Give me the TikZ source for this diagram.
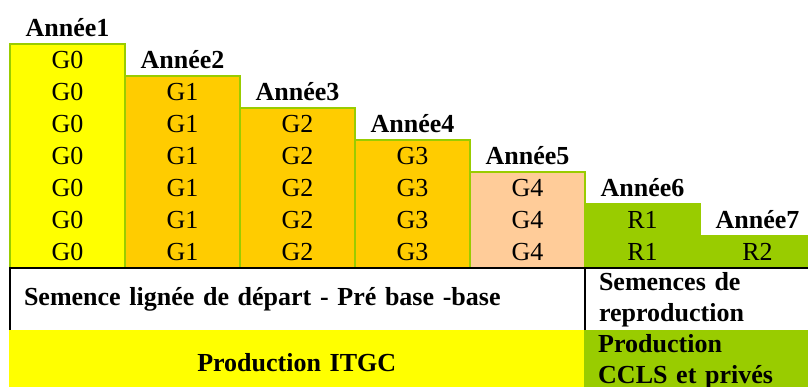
\documentclass[tikz,border=0pt]{standalone}
\usepackage{fontspec}
\setmainfont{Liberation Serif}
\usepackage{xcolor}
\usepackage{tikz}
\usetikzlibrary{positioning}
\definecolor{itgcyellow}{RGB}{255, 255, 0}
\definecolor{gorange}{RGB}{255, 204, 0}
\definecolor{gpeach}{RGB}{255, 204, 153}
\definecolor{rgreen}{RGB}{153, 204, 0}

\begin{document}
\begin{tikzpicture}[
    x=1pt, y=-1pt,
    colonne/.style={rectangle, draw=rgreen, fill=#1, line width=2pt,
                    anchor=north west, minimum width=115pt, inner sep=0pt,
                    align=center, font=\fontsize{26}{32}\selectfont},
    annee/.style={inner sep=0pt, font=\fontsize{26}{32}\selectfont\bfseries},
    bloc/.style={rectangle, fill=#1, anchor=north west, minimum height=63pt,
                 inner xsep=14pt, inner ysep=0pt, align=left,
                 font=\fontsize{26}{31}\selectfont\bfseries}
]
    \useasboundingbox (0,0) rectangle (808,387);
    \fill[white] (0,0) rectangle (808,387);
    \clip (0,0) rectangle (808,387);

    % Generations per year
    \node[colonne=itgcyellow, minimum height=224pt] (c1) at (9, 43) {G0\\G0\\G0\\G0\\G0\\G0\\G0};
    \node[colonne=gorange, minimum height=192pt] (c2) at (124, 75) {G1\\G1\\G1\\G1\\G1\\G1};
    \node[colonne=gorange, minimum height=160pt] (c3) at (239, 107) {G2\\G2\\G2\\G2\\G2};
    \node[colonne=gorange, minimum height=128pt] (c4) at (354, 139) {G3\\G3\\G3\\G3};
    \node[colonne=gpeach, minimum height=96pt] (c5) at (469, 171) {G4\\G4\\G4};
    \node[colonne=rgreen, minimum height=64pt] (c6) at (584, 203) {R1\\R1};
    \node[colonne=rgreen, minimum height=32pt] (c7) at (699, 235) {R2};

    % Years
    \node[annee, above=6pt of c1] (a1) {Année1};
    \node[annee, above=6pt of c2] (a2) {Année2};
    \node[annee, above=6pt of c3] (a3) {Année3};
    \node[annee, above=6pt of c4] (a4) {Année4};
    \node[annee, above=6pt of c5] (a5) {Année5};
    \node[annee, above=6pt of c6] (a6) {Année6};
    \node[annee, above=6pt of c7] (a7) {Année7};

    % Seed categories
    \node[bloc=white, draw=black, line width=2pt, text width=547pt] (depart) at (9, 267) {Semence lignée de départ - Pré base -base};
    \node[bloc=white, draw=black, line width=2pt, text width=200pt] (repro) at (584, 267) {Semences de\\reproduction};

    % Producers
    \node[bloc=itgcyellow, minimum height=64pt, text width=547pt, align=center] (itgc) at (9, 330) {Production ITGC};
    \node[bloc=rgreen, minimum height=64pt, text width=200pt] (ccls) at (584, 330) {Production\\CCLS et privés};
\end{tikzpicture}
\end{document}
